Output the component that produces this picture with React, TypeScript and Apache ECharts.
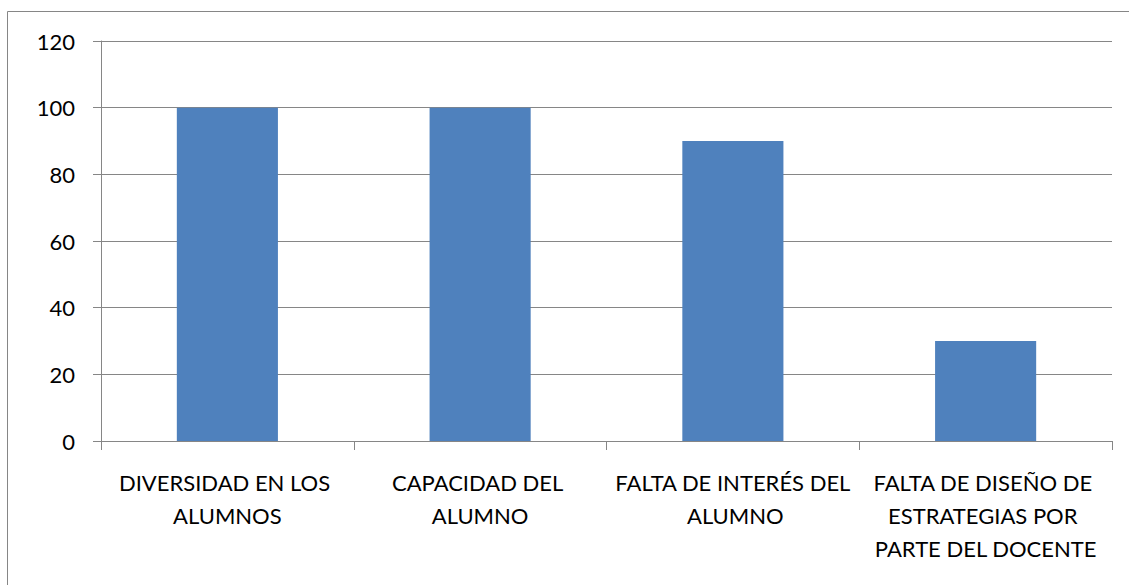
import React, { useEffect, useRef } from "react";
import * as echarts from "echarts";

const categories = [
  "DIVERSIDAD EN LOS ALUMNOS",
  "CAPACIDAD DEL ALUMNO",
  "FALTA DE INTERÉS DEL ALUMNO",
  "FALTA DE DISEÑO DE ESTRATEGIAS POR PARTE DEL DOCENTE",
];
const values = [100, 100, 90, 30];
const yTicks = { min: 0, max: 120, interval: 20 };

export default function App() {
  const ref = useRef<HTMLDivElement>(null);
  useEffect(() => {
    if (!ref.current) return;
    const chart = echarts.init(ref.current, null, { renderer: "svg" });
    const font = "Lato, 'Open Sans', sans-serif";
    chart.setOption({
      animation: false,
      backgroundColor: "#ffffff",
      graphic: [
        {
          type: "rect",
          shape: { x: 7.5, y: 11.5, width: 1300, height: 800 },
          style: { fill: "none", stroke: "#868686", lineWidth: 1 },
          silent: true,
        },
      ],
      grid: { left: 101, top: 41, right: 17, bottom: 144, containLabel: false },
      xAxis: {
        type: "category",
        data: categories,
        boundaryGap: true,
        axisLine: { show: true, lineStyle: { color: "#868686", width: 1 } },
        axisTick: { show: true, length: 9, alignWithLabel: false, lineStyle: { color: "#868686" } },
        axisLabel: {
          interval: 0,
          color: "#000000",
          fontFamily: font,
          fontSize: 22,
          lineHeight: 33,
          margin: 25,
          width: 252,
          overflow: "break",
        },
      },
      yAxis: {
        type: "value",
        min: yTicks.min,
        max: yTicks.max,
        interval: yTicks.interval,
        axisLine: { show: true, lineStyle: { color: "#868686", width: 1 } },
        axisTick: { show: true, length: 8, lineStyle: { color: "#868686" } },
        splitLine: { show: true, lineStyle: { color: "#868686", width: 1 } },
        axisLabel: { color: "#000000", fontFamily: font, fontSize: 22, margin: 26 },
      },
      series: [
        {
          type: "bar",
          data: values,
          barWidth: "40%",
          itemStyle: { color: "#4f81bd" },
        },
      ],
    });
    return () => chart.dispose();
  }, []);
  return (
    <div
      ref={ref}
      style={{ position: "fixed", left: 0, top: 0, width: 1129, height: 585, background: "#fff" }}
    />
  );
}
